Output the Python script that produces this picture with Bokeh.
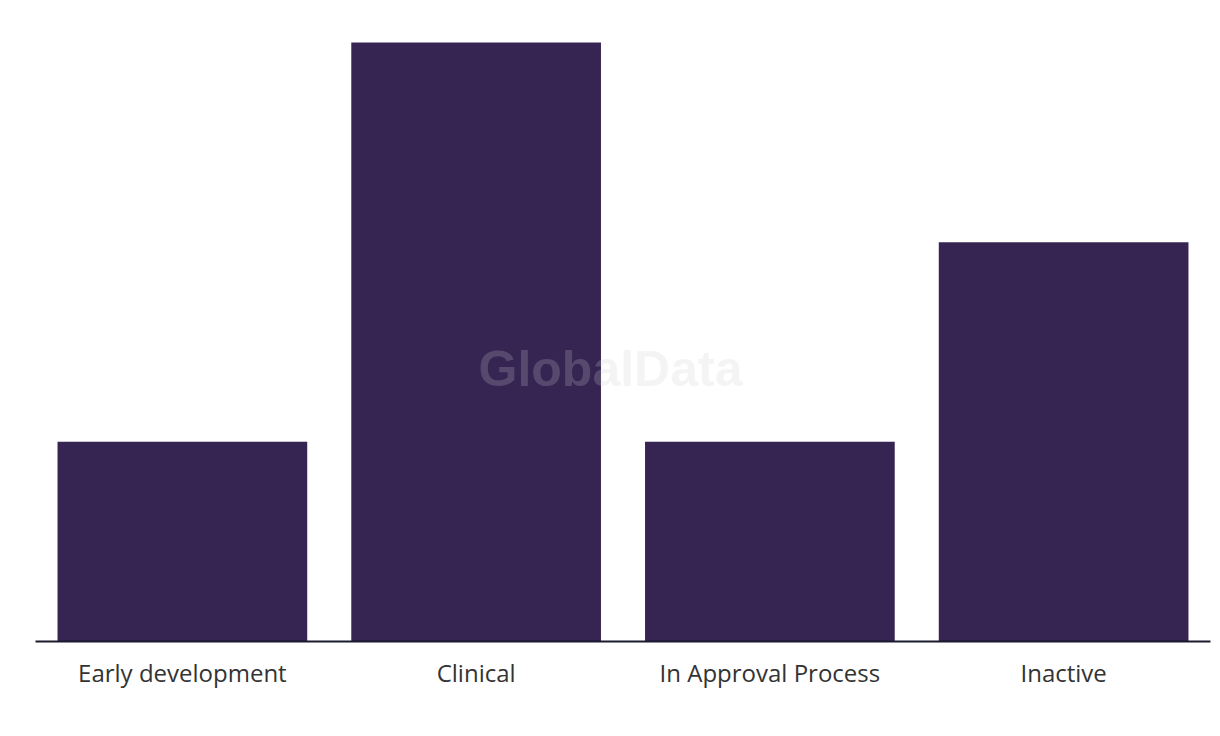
from bokeh.plotting import figure
from bokeh.models import ColumnDataSource, Label, Range1d
from bokeh.embed import file_html
from bokeh.resources import INLINE

categories = ["Early development", "Clinical", "In Approval Process", "Inactive"]
values = [1, 3, 1, 2]

source = ColumnDataSource(data=dict(cat=categories, val=values))

p = figure(x_range=categories, width=1218, height=728, output_backend="svg",
           toolbar_location=None, min_border_left=35, min_border_right=8,
           min_border_top=12, min_border_bottom=87)
p.y_range = Range1d(0, 3.15)
p.vbar(x="cat", top="val", width=0.85, source=source, color="#362452", line_color=None)

p.yaxis.visible = False
p.xgrid.grid_line_color = None
p.ygrid.grid_line_color = None
p.outline_line_color = None
p.xaxis.axis_line_color = "#1a1a2e"
p.xaxis.axis_line_width = 2
p.xaxis.major_tick_line_color = None
p.xaxis.minor_tick_line_color = None
p.xaxis.major_label_text_font = "Open Sans"
p.xaxis.major_label_text_font_size = "24px"
p.xaxis.major_label_text_color = "#333333"
p.xaxis.major_label_standoff = 8
p.x_range.range_padding = 0

wm = Label(x=575, y=273, x_units="screen", y_units="screen", text="GlobalData",
           text_font="Liberation Sans", text_font_style="bold", text_font_size="50px",
           text_color="#cecece", text_alpha=0.22, text_align="center", text_baseline="middle")
p.add_layout(wm)

open("out.html", "w").write(file_html(p, INLINE))
